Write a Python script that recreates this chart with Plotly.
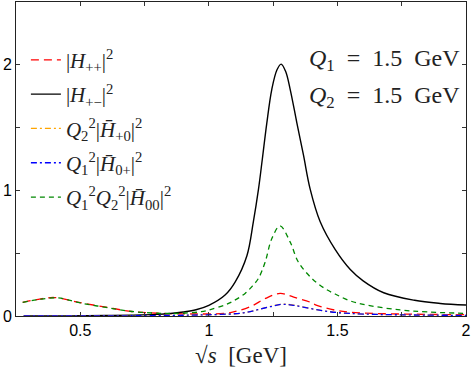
import plotly.graph_objects as go

# sqrt(s) [GeV] sample points and read-off values
x_black = [0.28, 0.4, 0.5, 0.6, 0.7, 0.8, 0.85, 0.9, 0.95, 1.0, 1.063, 1.102, 1.148, 1.173, 1.193, 1.208, 1.225,
           1.245, 1.265, 1.281, 1.298, 1.316, 1.342, 1.368, 1.394, 1.433, 1.491, 1.55, 1.6, 1.68, 1.8, 1.9, 2.0]
y_black = [0.0, 0.0, 0.002, 0.004, 0.007, 0.013, 0.02, 0.032, 0.05, 0.085, 0.167, 0.27, 0.48, 0.75, 1.01, 1.25, 1.53,
           1.807, 1.96, 2.005, 1.95, 1.807, 1.54, 1.28, 1.01, 0.75, 0.53, 0.37, 0.28, 0.185, 0.125, 0.1, 0.087]

x_green = [0.276, 0.33, 0.41, 0.5, 0.6, 0.7, 0.8, 0.85, 0.9, 0.97, 1.0, 1.063, 1.1, 1.141, 1.17, 1.193, 1.219, 1.245,
           1.277, 1.316, 1.348, 1.4, 1.45, 1.491, 1.55, 1.614, 1.744, 1.85, 2.0]
y_green = [0.109, 0.128, 0.145, 0.104, 0.068, 0.036, 0.022, 0.02, 0.022, 0.034, 0.048, 0.088, 0.125, 0.18, 0.24, 0.30, 0.43, 0.617,
           0.717, 0.59, 0.43, 0.30, 0.22, 0.175, 0.12, 0.087, 0.048, 0.032, 0.021]

x_red = [0.276, 0.33, 0.4, 0.5, 0.6, 0.7, 0.8, 0.9, 0.97, 1.063, 1.1, 1.167, 1.22, 1.277, 1.33, 1.394, 1.42, 1.49,
         1.55, 1.65, 1.8, 2.0]
y_red = [0.109, 0.13, 0.147, 0.106, 0.07, 0.036, 0.022, 0.017, 0.016, 0.021, 0.034, 0.08, 0.14, 0.18, 0.15,
         0.11, 0.085, 0.047, 0.03, 0.02, 0.014, 0.01]

x_blue = [0.28, 0.5, 0.7, 0.9, 1.0, 1.1, 1.15, 1.19, 1.24, 1.284, 1.33, 1.394, 1.45, 1.5, 1.55, 1.65, 1.8, 2.0]
y_blue = [0.0, 0.0, 0.002, 0.006, 0.01, 0.018, 0.03, 0.05, 0.075, 0.093, 0.085, 0.06, 0.04, 0.027, 0.02, 0.013, 0.008, 0.005]

x_orange = x_blue
y_orange = [0.0, 0.0, 0.002, 0.006, 0.01, 0.018, 0.03, 0.05, 0.076, 0.094, 0.086, 0.06, 0.04, 0.027, 0.02, 0.013, 0.008, 0.005]

names = ["|<i>H</i><sub>++</sub>|<sup>2</sup>",
         "|<i>H</i><sub>+−</sub>|<sup>2</sup>",
         "<i>Q</i><sub>2</sub><sup>2</sup>|<i>H̄</i><sub>+0</sub>|<sup>2</sup>",
         "<i>Q</i><sub>1</sub><sup>2</sup>|<i>H̄</i><sub>0+</sub>|<sup>2</sup>",
         "<i>Q</i><sub>1</sub><sup>2</sup><i>Q</i><sub>2</sub><sup>2</sup>|<i>H̄</i><sub>00</sub>|<sup>2</sup>"]

fig = go.Figure()
fig.add_trace(go.Scatter(x=x_red, y=y_red, mode="lines", name=names[0], legendgroup="a",
                         line=dict(color="#ff0000", width=1.3, dash="8px,5px"), line_shape="spline"))
fig.add_trace(go.Scatter(x=x_black, y=y_black, mode="lines", name=names[1], legendgroup="b",
                         line=dict(color="#000000", width=1.4), line_shape="spline"))
fig.add_trace(go.Scatter(x=x_orange, y=y_orange, mode="lines", name=names[2], legendgroup="c",
                         line=dict(color="#ffa500", width=1.3, dash="6px,3px,2px,3px"), line_shape="spline"))
fig.add_trace(go.Scatter(x=x_blue, y=y_blue, mode="lines", name=names[3], legendgroup="d",
                         line=dict(color="#0000ff", width=1.3, dash="6px,3px,2px,3px"), line_shape="spline"))
fig.add_trace(go.Scatter(x=x_green, y=y_green, mode="lines", name=names[4], legendgroup="e",
                         line=dict(color="#008800", width=1.3, dash="5px,4px"), line_shape="spline"))

fig.update_layout(
    width=473, height=375,
    margin=dict(l=16, r=7, t=2, b=59),
    plot_bgcolor="white", paper_bgcolor="white",
    showlegend=True,
    legend=dict(x=0.022, y=0.88, xanchor="left", yanchor="top", bgcolor="rgba(0,0,0,0)",
                font=dict(family="Liberation Serif", size=21, color="#222"), tracegroupgap=4, itemwidth=30,
                traceorder="grouped"),
    xaxis=dict(range=[0.25, 2.0], tickvals=[0.5, 1.0, 1.5, 2.0], ticktext=["0.5", "1", "1.5", "2"],
               ticks="inside", ticklen=4, tickcolor="#333", mirror="ticks", showline=True, linecolor="#222", linewidth=1,
               showgrid=False, zeroline=False,
               minor=dict(tickvals=[0.75, 1.25, 1.75], ticks="inside", ticklen=4, tickcolor="#333"),
               tickfont=dict(family="Liberation Sans", size=16, color="black"),
               title=dict(text="√<i>s</i>  [GeV]", font=dict(family="Liberation Serif", size=23, color="#222"), standoff=8)),
    yaxis=dict(range=[0, 2.5], tickvals=[0, 1, 2], ticktext=["0", "1", "2"],
               ticks="inside", ticklen=4, tickcolor="#333", mirror="ticks", showline=True, linecolor="#222", linewidth=1,
               showgrid=False, zeroline=False,
               minor=dict(tickvals=[0.5, 1.5], ticks="inside", ticklen=4, tickcolor="#333"),
               tickfont=dict(family="Liberation Sans", size=16, color="black")),
)

fig.add_annotation(x=0.99, y=0.815, xref="paper", yref="paper", xanchor="right", yanchor="middle", showarrow=False,
                   text="<i>Q</i><sub>1</sub> &nbsp;= &nbsp;1.5&nbsp; GeV", font=dict(family="Liberation Serif", size=24, color="#222"))
fig.add_annotation(x=0.99, y=0.697, xref="paper", yref="paper", xanchor="right", yanchor="middle", showarrow=False,
                   text="<i>Q</i><sub>2</sub> &nbsp;= &nbsp;1.5&nbsp; GeV", font=dict(family="Liberation Serif", size=24, color="#222"))

fig.write_html("out.html")
